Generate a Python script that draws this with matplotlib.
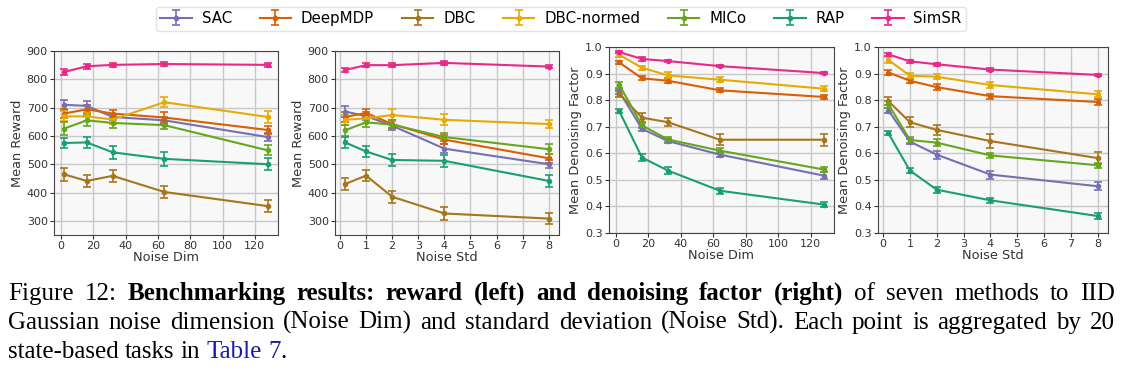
import matplotlib
matplotlib.use("Agg")
import matplotlib.pyplot as plt
import numpy as np

methods = ["SAC", "DeepMDP", "DBC", "DBC-normed", "MICo", "RAP", "SimSR"]
colors = ["#7570b3", "#d95f02", "#a6761d", "#e6ab02", "#66a61e", "#1b9e77", "#e7298a"]

noise_dim = [2, 16, 32, 64, 128]
noise_std = [0.2, 1, 2, 4, 8]

# reward vs noise dim
rew_dim = {
    "SAC":        [710, 706, 667, 655, 596],
    "DeepMDP":    [679, 694, 679, 665, 621],
    "DBC":        [464, 441, 459, 402, 352],
    "DBC-normed": [669, 669, 658, 719, 667],
    "MICo":       [626, 655, 646, 638, 549],
    "RAP":        [575, 577, 542, 519, 500],
    "SimSR":      [826, 846, 851, 854, 851],
}
rew_dim_err = {
    "SAC": [18, 16, 12, 12, 15], "DeepMDP": [15, 14, 14, 18, 15],
    "DBC": [22, 22, 22, 20, 22], "DBC-normed": [18, 15, 15, 18, 22],
    "MICo": [22, 20, 18, 15, 18], "RAP": [18, 20, 22, 25, 22],
    "SimSR": [12, 8, 8, 6, 6],
}
# reward vs noise std
rew_std = {
    "SAC":        [686, 670, 636, 555, 500],
    "DeepMDP":    [667, 681, 642, 587, 521],
    "DBC":        [430, 460, 385, 326, 308],
    "DBC-normed": [657, 662, 674, 657, 642],
    "MICo":       [620, 648, 640, 596, 553],
    "RAP":        [577, 545, 515, 512, 441],
    "SimSR":      [833, 850, 850, 858, 845],
}
rew_std_err = {
    "SAC": [18, 15, 15, 15, 15], "DeepMDP": [18, 15, 15, 15, 15],
    "DBC": [20, 20, 22, 22, 20], "DBC-normed": [18, 18, 22, 20, 15],
    "MICo": [20, 15, 15, 15, 18], "RAP": [20, 20, 22, 22, 20],
    "SimSR": [8, 8, 6, 6, 6],
}
# denoising factor vs noise dim
den_dim = {
    "SAC":        [0.833, 0.692, 0.646, 0.595, 0.516],
    "DeepMDP":    [0.942, 0.882, 0.873, 0.837, 0.812],
    "DBC":        [0.824, 0.734, 0.717, 0.651, 0.651],
    "DBC-normed": [0.971, 0.922, 0.893, 0.877, 0.843],
    "MICo":       [0.858, 0.705, 0.652, 0.610, 0.539],
    "RAP":        [0.759, 0.584, 0.535, 0.459, 0.407],
    "SimSR":      [0.981, 0.955, 0.947, 0.928, 0.902],
}
den_dim_err = {
    "SAC": [0.01, 0.008, 0.008, 0.01, 0.012], "DeepMDP": [0.006, 0.008, 0.01, 0.008, 0.008],
    "DBC": [0.012, 0.018, 0.015, 0.02, 0.022], "DBC-normed": [0.008, 0.008, 0.012, 0.01, 0.01],
    "MICo": [0.012, 0.01, 0.008, 0.01, 0.01], "RAP": [0.008, 0.012, 0.012, 0.012, 0.01],
    "SimSR": [0.005, 0.006, 0.005, 0.005, 0.005],
}
# denoising factor vs noise std
den_std = {
    "SAC":        [0.761, 0.644, 0.595, 0.520, 0.476],
    "DeepMDP":    [0.904, 0.873, 0.849, 0.815, 0.793],
    "DBC":        [0.796, 0.717, 0.688, 0.646, 0.582],
    "DBC-normed": [0.951, 0.892, 0.888, 0.857, 0.822],
    "MICo":       [0.784, 0.650, 0.640, 0.592, 0.555],
    "RAP":        [0.675, 0.535, 0.463, 0.423, 0.364],
    "SimSR":      [0.972, 0.946, 0.935, 0.915, 0.895],
}
den_std_err = {
    "SAC": [0.01, 0.01, 0.015, 0.015, 0.015], "DeepMDP": [0.008, 0.008, 0.01, 0.01, 0.01],
    "DBC": [0.015, 0.018, 0.02, 0.025, 0.022], "DBC-normed": [0.01, 0.01, 0.01, 0.012, 0.012],
    "MICo": [0.012, 0.01, 0.012, 0.01, 0.01], "RAP": [0.008, 0.01, 0.012, 0.01, 0.01],
    "SimSR": [0.005, 0.005, 0.005, 0.005, 0.005],
}

W, H = 1122, 375
fig = plt.figure(figsize=(W / 100, H / 100), dpi=100)

txtcol = "#333333"
panels = [
    (noise_dim, rew_dim, rew_dim_err, "Noise Dim", "Mean Reward", (250, 900), [54, 51, 224, 184]),
    (noise_std, rew_std, rew_std_err, "Noise Std", "Mean Reward", (250, 900), [335, 51, 224, 184]),
    (noise_dim, den_dim, den_dim_err, "Noise Dim", "Mean Denoising Factor", (0.3, 1.0), [609, 47, 225, 186]),
    (noise_std, den_std, den_std_err, "Noise Std", "Mean Denoising Factor", (0.3, 1.0), [878, 47, 230, 186]),
]

handles = []
for i, (xs, vals, errs, xl, yl, ylim, box) in enumerate(panels):
    x, y, w, h = box
    ax = fig.add_axes([x / W, 1 - (y + h) / H, w / W, h / H])
    ax.set_facecolor("#f8f8f8")
    ax.grid(True, color="#c8c8c8", linewidth=1.0)
    ax.set_axisbelow(True)
    for m, c in zip(methods, colors):
        eb = ax.errorbar(xs, vals[m], yerr=errs[m], color=c, marker="o", markersize=3,
                         linewidth=1.5, capsize=3, elinewidth=1.2, capthick=1.2, label=m)
        if i == 0:
            handles.append(eb)
    ax.set_ylim(*ylim)
    if ylim[1] == 900:
        ax.set_yticks([300, 400, 500, 600, 700, 800, 900])
    else:
        ax.set_yticks(np.arange(0.3, 1.01, 0.1))
        ax.yaxis.set_major_formatter(matplotlib.ticker.FormatStrFormatter("%.1f"))
    if xs[0] == 2:
        ax.set_xticks([0, 20, 40, 60, 80, 100, 120])
    else:
        ax.set_xticks(range(0, 9))
    ax.set_xlabel(xl, fontsize=9.3, color=txtcol, labelpad=0)
    ax.set_ylabel(yl, fontsize=9.3, color=txtcol, labelpad=2)
    ax.tick_params(labelsize=8, colors=txtcol, length=3, pad=1.5)
    for s in ax.spines.values():
        s.set_color("#444444")

fig.legend(handles, methods, loc="center", bbox_to_anchor=(0.5, 1 - 18.5 / H), ncol=7,
           fontsize=10.8, frameon=True, edgecolor="#dddddd", handlelength=2.1, columnspacing=1.85,
           borderpad=0.3, handletextpad=0.65)

# caption, justified like the paper
renderer = fig.canvas.get_renderer()
cap_font = "Liberation Serif"
cap_size = 18


def word_width(word, weight):
    t = fig.text(0, 0, word, fontsize=cap_size, family=cap_font, weight=weight)
    wd = t.get_window_extent(renderer).width
    t.remove()
    return wd


def caption_line(ypix, pieces, x0, x1, justify):
    words = []
    for text, weight, color in pieces:
        glue = text.startswith(".")
        for k, wd in enumerate(text.split()):
            words.append((wd, weight, color, glue and k == 0))
    widths = [word_width(wd, wt) for wd, wt, _, _ in words]
    space = word_width("a b", "normal") - word_width("ab", "normal")
    ngaps = sum(1 for wd in words[1:] if not wd[3])
    if justify and ngaps > 0:
        gap = (x1 - x0 - sum(widths)) / ngaps
    else:
        gap = space
    xp = x0
    for n, ((wd, wt, col, glue), wdt) in enumerate(zip(words, widths)):
        if n > 0 and not glue:
            xp += gap
        fig.text(xp / W, 1 - ypix / H, wd, fontsize=cap_size, family=cap_font, weight=wt,
                 color=col, va="baseline", ha="left")
        xp += wdt


caption_line(300, [("Figure 12:", "normal", "black"),
                   ("Benchmarking results: reward (left) and denoising factor (right)", "bold", "black"),
                   ("of seven methods to IID", "normal", "black")], 8, 1115, True)
caption_line(329, [("Gaussian noise dimension (Noise Dim) and standard deviation (Noise Std).  Each point is aggregated by 20",
                    "normal", "black")], 8, 1115, True)
caption_line(358, [("state-based tasks in", "normal", "black"), ("Table 7", "normal", "#1a1aa6"),
                   (".", "normal", "black")], 8, 1115, False)

fig.savefig("out.png", dpi=100)
